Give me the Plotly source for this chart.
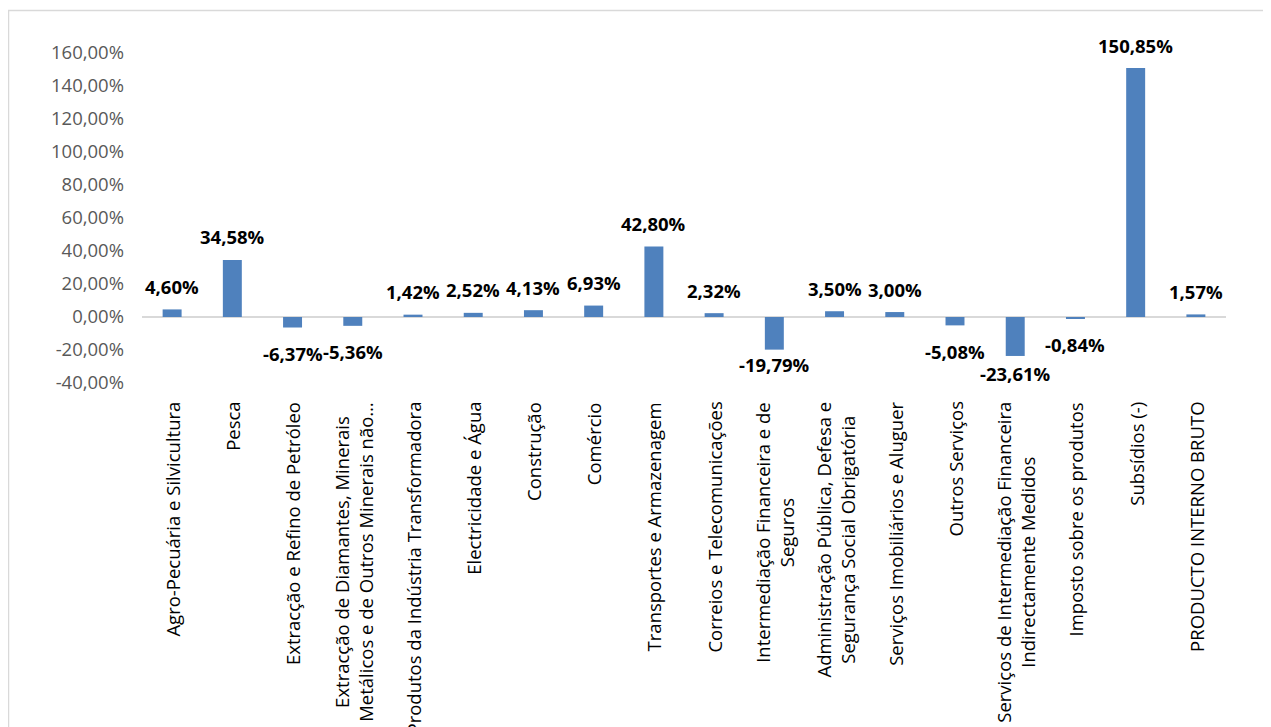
import plotly.graph_objects as go

categories = [
    "Agro-Pecuária e Silvicultura",
    "Pesca",
    "Extracção e Refino de Petróleo",
    "Extracção de Diamantes, Minerais<br>Metálicos e de Outros Minerais não…",
    "Produtos da Indústria Transformadora",
    "Electricidade e Água",
    "Construção",
    "Comércio",
    "Transportes e Armazenagem",
    "Correios e Telecomunicações",
    "Intermediação Financeira e de<br>Seguros",
    "Administração Pública, Defesa e<br>Segurança Social Obrigatória",
    "Serviços Imobiliários e Aluguer",
    "Outros Serviços",
    "Serviços de Intermediação Financeira<br>Indirectamente Medidos",
    "Imposto sobre os produtos",
    "Subsídios (-)",
    "PRODUCTO INTERNO BRUTO",
]
values = [4.60, 34.58, -6.37, -5.36, 1.42, 2.52, 4.13, 6.93, 42.80, 2.32,
          -19.79, 3.50, 3.00, -5.08, -23.61, -0.84, 150.85, 1.57]
y_ticks = [-40, -20, 0, 20, 40, 60, 80, 100, 120, 140, 160]


def pct(v, d=2):
    return f"{v:.{d}f}".replace(".", ",") + "%"


y_tick_text = [pct(v) for v in y_ticks]
labels = [pct(v) for v in values]

FONT = "Open Sans"
# page has an 8px body margin, so the figure is sized to fill the rest
W, H = 1263, 719
ML, MR, MT, MB = 134, 45, 45, 344
pw = W - ML - MR
ph = H - MT - MB

fig = go.Figure()
fig.add_trace(go.Bar(
    x=categories, y=values,
    marker=dict(color="#4F81BD", line=dict(width=0)),
    hoverinfo="skip",
))

# data labels
for c, v, t in zip(categories, values, labels):
    shift = 23 if v >= 0 else -26
    if v < -15:
        shift = -15 if v > -21 else -18
    fig.add_annotation(
        x=c, y=v, xref="x", yref="y", text=f"<b>{t}</b>", showarrow=False,
        yanchor="middle", yshift=shift,
        font=dict(family=FONT, size=18.5, color="#000000"),
    )

# category labels (rotated, lines centred like the reference)
for c in categories:
    fig.add_annotation(
        x=c, y=0, xref="x", yref="paper", text=c, showarrow=False,
        textangle=-90, xanchor="center", yanchor="top", align="center",
        yshift=-17,
        font=dict(family=FONT, size=18.5, color="#000000"),
    )

# chart border (cropped on right and bottom)
fig.add_shape(
    type="rect", xref="paper", yref="paper",
    x0=(0.5 - ML) / pw, x1=1.08,
    y0=-1.2, y1=((MT + ph) - 2.5) / ph,
    line=dict(color="#D9D9D9", width=1.5), fillcolor="rgba(0,0,0,0)",
    layer="below",
)

fig.update_layout(
    template="none",
    width=W, height=H,
    margin=dict(l=ML, r=MR, t=MT, b=MB, pad=0),
    paper_bgcolor="white", plot_bgcolor="white",
    bargap=0.685,
    showlegend=False,
    font=dict(family=FONT, size=18.5, color="#000000"),
    xaxis=dict(
        type="category", showgrid=False, showline=False,
        zeroline=False, ticks="", automargin=False, showticklabels=False,
    ),
    yaxis=dict(
        range=[-40, 160], tickvals=y_ticks, ticktext=y_tick_text,
        showgrid=False, showline=False, ticks="", automargin=False,
        zeroline=True, zerolinecolor="#D9D9D9", zerolinewidth=1.5,
        tickfont=dict(family=FONT, size=18.5, color="#595959"),
        ticklabelstandoff=17,
    ),
)

fig.write_html("out.html")
